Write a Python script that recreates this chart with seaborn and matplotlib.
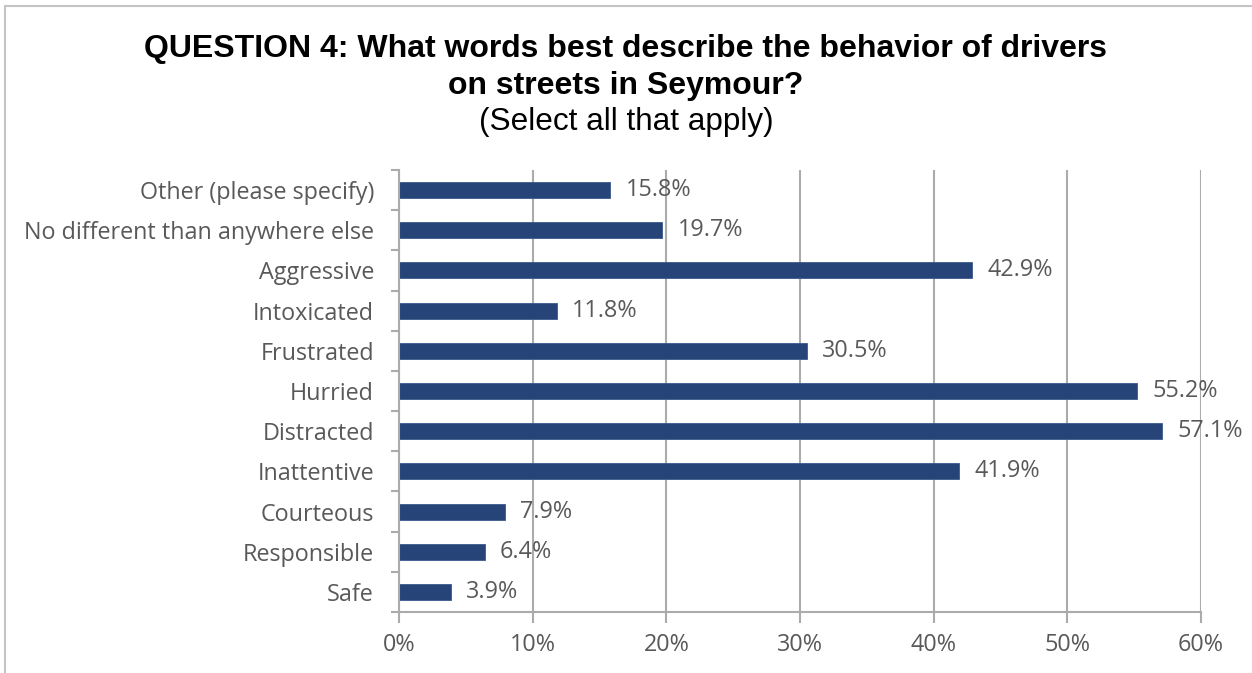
import matplotlib
matplotlib.use("Agg")
import matplotlib.pyplot as plt
import matplotlib.patches as mpatches
from matplotlib.ticker import FixedLocator, PercentFormatter
import seaborn as sns
import pandas as pd

# Survey responses (share of respondents, %)
categories = [
    "Other (please specify)",
    "No different than anywhere else",
    "Aggressive",
    "Intoxicated",
    "Frustrated",
    "Hurried",
    "Distracted",
    "Inattentive",
    "Courteous",
    "Responsible",
    "Safe",
]
percent = [15.8, 19.7, 42.9, 11.8, 30.5, 55.2, 57.1, 41.9, 7.9, 6.4, 3.9]
x_ticks = [0, 10, 20, 30, 40, 50, 60]

title_line1 = "QUESTION 4: What words best describe the behavior of drivers"
title_line2 = "on streets in Seymour?"
title_sub = "(Select all that apply)"

df = pd.DataFrame({"category": categories, "percent": percent})

sns.set_theme(style="white")
plt.rcParams["font.family"] = ["Open Sans", "DejaVu Sans"]

BAR = "#264478"
GRID = "#ABABAB"
TEXT = "#595959"
FS = 16.8

fig = plt.figure(figsize=(12.52, 6.73), dpi=100)
ax = fig.add_axes([0.3187, 0.0906, 0.6406, 0.6568])

sns.barplot(data=df, x="percent", y="category", order=categories,
            color=BAR, width=0.4, saturation=1, ax=ax,
            edgecolor="#3A5A8C", linewidth=0.6)

ax.set_xlim(0, 60)
ax.set_ylim(len(categories) - 0.5, -0.5)
ax.xaxis.set_major_locator(FixedLocator(x_ticks))
ax.xaxis.set_major_formatter(PercentFormatter(decimals=0))
ax.grid(axis="x", color=GRID, linewidth=1.5)
ax.set_axisbelow(True)
ax.set_xlabel("")
ax.set_ylabel("")

for side in ("top", "right"):
    ax.spines[side].set_visible(False)
for side in ("left", "bottom"):
    ax.spines[side].set_color(GRID)
    ax.spines[side].set_linewidth(1.5)

# tick marks sit between categories on the y axis
ax.yaxis.set_minor_locator(FixedLocator([i - 0.5 for i in range(len(categories) + 1)]))
ax.tick_params(axis="y", which="major", length=0, pad=18, labelsize=FS, labelcolor=TEXT)
ax.tick_params(axis="y", which="minor", length=6, width=1.5, color=GRID, left=True)
ax.tick_params(axis="x", which="major", length=8, width=1.5, color=GRID, bottom=True,
               pad=7, labelsize=FS, labelcolor=TEXT)
for lbl in ax.get_yticklabels():
    lbl.set_va("center_baseline")

ax.bar_label(ax.containers[0], labels=[f"{v:.1f}%" for v in percent],
             padding=11, fontsize=FS, color=TEXT)

title_font = ["Liberation Sans", "DejaVu Sans"]
fig.text(0.5, 1 - 49 / 673, title_line1, ha="center", va="center", fontsize=23,
         fontweight="bold", family=title_font, color="black")
fig.text(0.5, 1 - 86 / 673, title_line2, ha="center", va="center", fontsize=23,
         fontweight="bold", family=title_font, color="black")
fig.text(0.5, 1 - 122 / 673, title_sub, ha="center", va="center", fontsize=22.7,
         family=title_font, color="black")

# chart frame
frame = mpatches.Rectangle((5 / 1252, -0.1), 1.2, 1.1 - 6 / 673,
                           transform=fig.transFigure, fill=False,
                           edgecolor="#C4C4C4", linewidth=1.5)
fig.patches.append(frame)

fig.savefig("out.png", dpi=100)
